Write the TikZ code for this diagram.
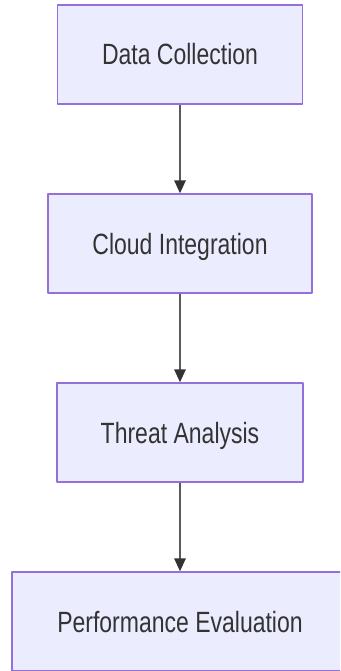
\documentclass[tikz,border=0pt]{standalone}
\usepackage{fontspec}
\usetikzlibrary{arrows.meta}
\newfontfamily\boxfont[FakeStretch=0.785]{Liberation Sans}
\definecolor{boxfill}{HTML}{ECECFF}
\definecolor{boxline}{HTML}{9370DB}
\definecolor{txtc}{HTML}{333333}
\definecolor{linkc}{HTML}{5A5A5A}
\begin{document}
\begin{tikzpicture}[x=1pt,y=-1pt,line join=round,
	box/.style={rectangle,draw=boxline,fill=boxfill,line width=1.4pt,
		minimum height=99pt,inner sep=0pt,text=txtc,
		font=\boxfont\fontsize{29.3}{32}\selectfont,
		text height=21pt,text depth=0pt},
	link/.style={linkc,line width=1.5pt,
		-{Triangle[length=13pt,width=11.5pt,color=txtc,fill=txtc]}}]
	\clip (0,0) rectangle (340,671);
	\fill[white] (0,0) rectangle (340,671);
	\path (180,54.5)node[box,minimum width=245pt](dc){Data Collection}
	++(0,189)node[box,minimum width=264pt](ci){Cloud Integration}
	++(0,189)node[box,minimum width=246pt](ta){Threat Analysis}
	++(0,189)node[box,minimum width=336pt](pe){Performance Evaluation};
	\draw[link](dc.south)--(ci.north);
	\draw[link](ci.south)--(ta.north);
	\draw[link](ta.south)--(pe.north);
\end{tikzpicture}
\end{document}
